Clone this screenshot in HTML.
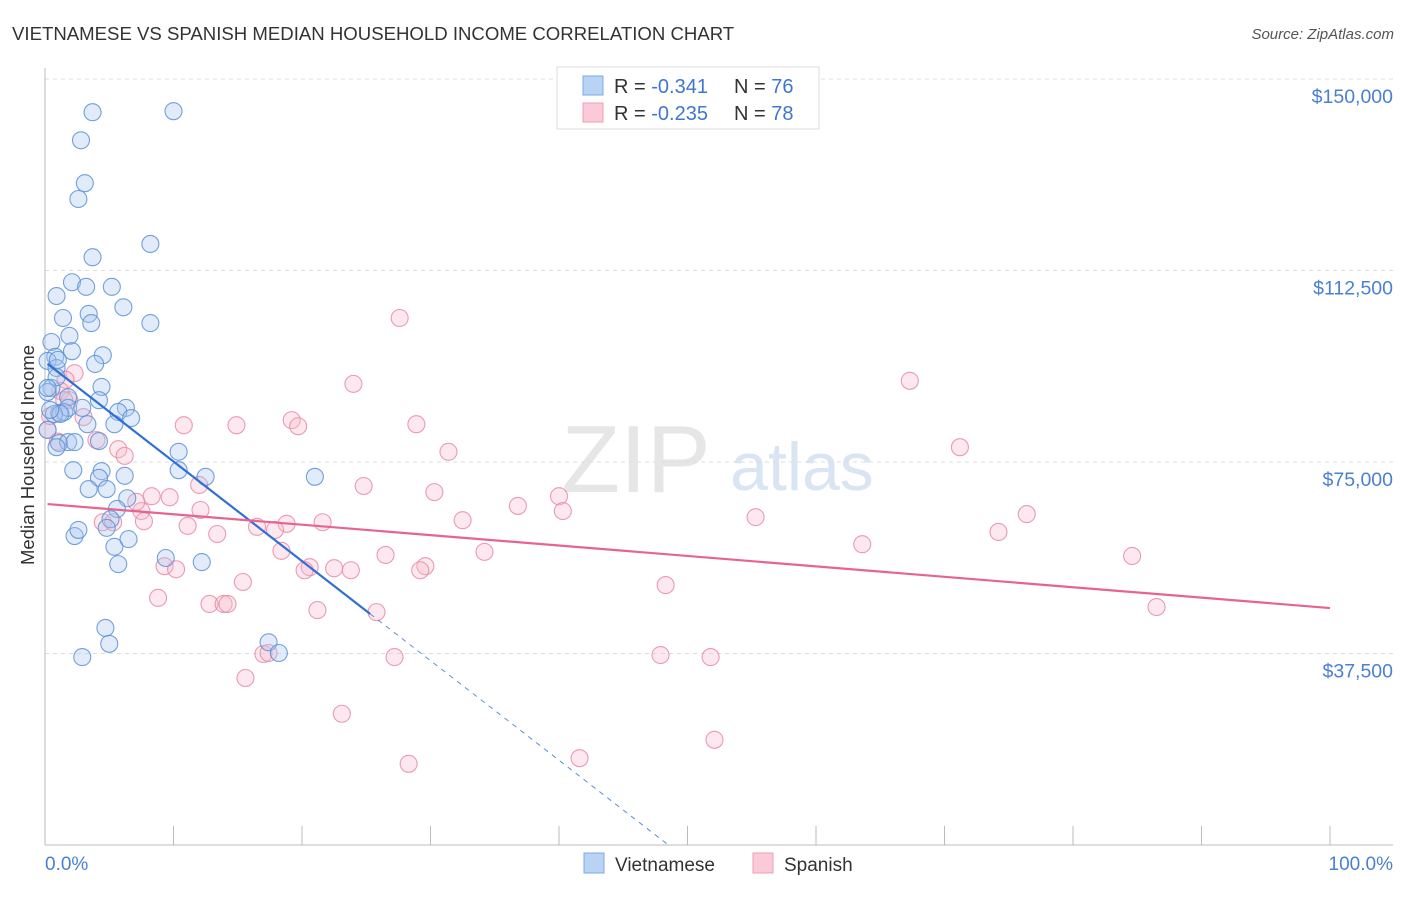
<!DOCTYPE html>
<html><head><meta charset="utf-8"><style>
body{margin:0;background:#fff;font-family:"Liberation Sans",sans-serif;}
svg text{font-family:"Liberation Sans",sans-serif;}
</style></head><body>
<svg id="chart" width="1406" height="892" xmlns="http://www.w3.org/2000/svg">
<text x="12" y="40" font-size="18.6" fill="#333">VIETNAMESE VS SPANISH MEDIAN HOUSEHOLD INCOME CORRELATION CHART</text>
<text x="1394" y="39" font-size="15" fill="#555" text-anchor="end" font-style="italic">Source: ZipAtlas.com</text>
<text x="636" y="492" font-size="96" fill="#e6e6e6" font-family="Liberation Serif" text-anchor="middle">ZIP</text>
<text x="802" y="490" font-size="68" fill="#dae5f4" text-anchor="middle">atlas</text>
<g id="grid"></g><g id="marks"></g>
<text transform="translate(34,455) rotate(-90)" font-size="18.5" fill="#333" text-anchor="middle">Median Household Income</text>
<text x="45" y="870" font-size="19" fill="#4a7fd4">0.0%</text>
<text x="1393" y="870" font-size="19" fill="#4a7fd4" text-anchor="end">100.0%</text>
<g>
<rect x="557" y="67" width="262" height="62" fill="#fff" stroke="#ddd"/>
<rect x="583" y="76" width="20" height="19" fill="#b9d3f5" stroke="#7ea8e3"/>
<rect x="583" y="103" width="20" height="19" fill="#fbcad8" stroke="#ef9db5"/>
<text x="614" y="93" font-size="20" fill="#333">R = <tspan fill="#3f77d0">-0.341</tspan></text>
<text x="734" y="93" font-size="20" fill="#333">N = <tspan fill="#3f77d0">76</tspan></text>
<text x="614" y="120" font-size="20" fill="#333">R = <tspan fill="#3f77d0">-0.235</tspan></text>
<text x="734" y="120" font-size="20" fill="#333">N = <tspan fill="#3f77d0">78</tspan></text>
</g>
<g><rect x="584" y="853" width="20" height="20" fill="#b9d3f5" stroke="#7ea8e3"/><text x="615" y="871" font-size="19" fill="#333">Vietnamese</text></g>
<g><rect x="753" y="853" width="20" height="20" fill="#fbcad8" stroke="#ef9db5"/><text x="784" y="871" font-size="19" fill="#333">Spanish</text></g>
</svg>
<script>
const yTicks=[37500,75000,112500,150000];
const yTickLabels=["$37,500","$75,000","$112,500","$150,000"];
const viX=[3.7,10.0,2.8,3.1,2.6,8.2,3.7,2.1,0.9,3.2,5.2,6.1,1.4,3.4,3.6,8.2,1.9,0.5,2.1,4.5,0.8,3.9,0.2,0.9,4.4,0.5,0.2,1.8,4.2,1.1,1.5,1.8,6.3,5.7,6.7,3.3,5.4,0.2,1.1,1.8,4.2,10.4,10.4,2.2,4.4,6.2,12.5,21.0,4.2,3.4,4.8,6.4,5.6,5.1,4.8,2.3,2.6,5.4,6.5,9.4,12.2,5.7,4.7,5.0,17.4,18.2,2.9,0.9,0.7,1.2,2.9,0.2,2.3,0.4,0.9,1.0];
const viY=[143.5,143.7,138.0,129.6,126.5,117.7,115.1,110.2,107.5,109.3,109.3,105.3,103.2,104.0,102.2,102.2,99.7,98.5,96.7,95.9,95.6,94.2,94.8,93.4,89.7,89.5,88.7,87.7,87.1,84.6,84.8,85.6,85.6,84.8,83.6,82.4,82.4,81.3,78.7,78.9,79.1,77.0,73.4,73.4,73.2,72.3,72.1,72.1,71.9,69.7,69.7,67.9,65.8,63.8,62.1,60.5,61.7,58.4,59.9,56.2,55.4,55.0,42.5,39.4,39.7,37.6,36.8,91.6,84.4,84.4,85.6,89.5,78.9,85.2,77.9,95.0];
const spX=[27.6,67.3,24.0,2.3,1.6,1.2,1.9,3.0,4.0,5.7,6.2,10.8,14.9,19.2,19.7,28.9,31.4,71.2,24.8,30.3,8.3,9.7,12.0,12.1,7.5,4.5,5.3,7.7,7.1,11.1,13.4,16.5,18.8,21.6,32.5,36.8,40.0,40.3,55.3,76.4,74.2,63.6,84.6,26.5,34.2,29.6,29.2,20.6,20.2,22.5,23.8,18.4,9.3,10.2,15.4,17.9,8.8,12.8,13.9,14.2,21.2,25.8,48.3,86.5,17.0,17.4,27.2,47.9,51.8,15.6,23.1,52.1,41.6,28.3,1.5,0.2,0.4,1.0];
const spY=[103.2,90.9,90.3,92.4,91.1,88.9,87.1,83.8,79.3,77.5,76.2,82.2,82.2,83.2,82.0,82.4,77.0,77.9,70.3,69.1,68.3,68.1,70.5,65.6,65.4,63.2,63.2,63.4,67.2,62.5,60.9,62.3,62.9,63.2,63.6,66.4,68.3,65.4,64.2,64.8,61.3,58.9,56.6,56.8,57.4,54.6,53.8,54.4,53.8,54.2,53.8,57.6,54.6,54.0,51.5,61.7,48.4,47.2,47.2,47.2,46.0,45.6,50.9,46.6,37.4,37.6,36.8,37.2,36.8,32.7,25.7,20.6,17.0,15.9,87.1,81.3,84.0,79.0];
const viTrend=[94.6,-1.95];   // intercept ($k), slope per %
const spTrend=[66.8,-0.204];
const X=p=>45+p*12.85, Y=k=>845-k*1000/37500*191.5;
const NS="http://www.w3.org/2000/svg";
function mk(t,a,p){const e=document.createElementNS(NS,t);for(const k in a)e.setAttribute(k,a[k]);p.appendChild(e);return e;}
const g=document.getElementById('grid'),m=document.getElementById('marks');
yTicks.forEach((v,i)=>{const y=Y(v/1000);
 const l=mk('line',{x1:45,x2:1393,y1:y,y2:y,stroke:'#ddd','stroke-dasharray':'4,4'},g);
 
 
 const t=mk('text',{x:1393,y:y+24,'font-size':19.5,fill:'#4a7fd4','text-anchor':'end'},g);t.textContent=yTickLabels[i];
 
 });
const ax=mk('line',{x1:45,x2:1393,y1:845,y2:845,stroke:'#bbb'},g);


const ay=mk('line',{x1:45,x2:45,y1:68,y2:845,stroke:'#bbb'},g);


for(let i=0;i<=10;i++){const t=mk('line',{x1:X(i*10),x2:X(i*10),y1:826,y2:845,stroke:'#bbb'},g);
 
 }
function pts(xs,ys,fill,stroke,name){xs.forEach((x,i)=>{const c=mk('circle',{cx:X(x),cy:Y(ys[i]),r:8.5,fill:fill,'fill-opacity':0.35,stroke:stroke,'stroke-opacity':0.85,'stroke-width':1.1},m);
 
 });}
pts(spX,spY,'#f7bccd','#e98aa7','spanish-point');
pts(viX,viY,'#a8c6ef','#5a90d8','vietnamese-point');
const xz=-viTrend[0]/viTrend[1];
const d=mk('line',{x1:X(25.3),y1:Y(viTrend[0]+viTrend[1]*25.3),x2:X(xz),y2:Y(0),stroke:'#5a8fd8','stroke-dasharray':'5,5','stroke-width':1},m);


const bl=mk('line',{x1:X(0.2),y1:Y(viTrend[0]+viTrend[1]*0.2),x2:X(25.3),y2:Y(viTrend[0]+viTrend[1]*25.3),stroke:'#2f6fd6','stroke-width':2.2},m);


const pl=mk('line',{x1:X(0.2),y1:Y(spTrend[0]+spTrend[1]*0.2),x2:X(100),y2:Y(spTrend[0]+spTrend[1]*100),stroke:'#e6648f','stroke-width':2.2},m);


</script>
</body></html>
